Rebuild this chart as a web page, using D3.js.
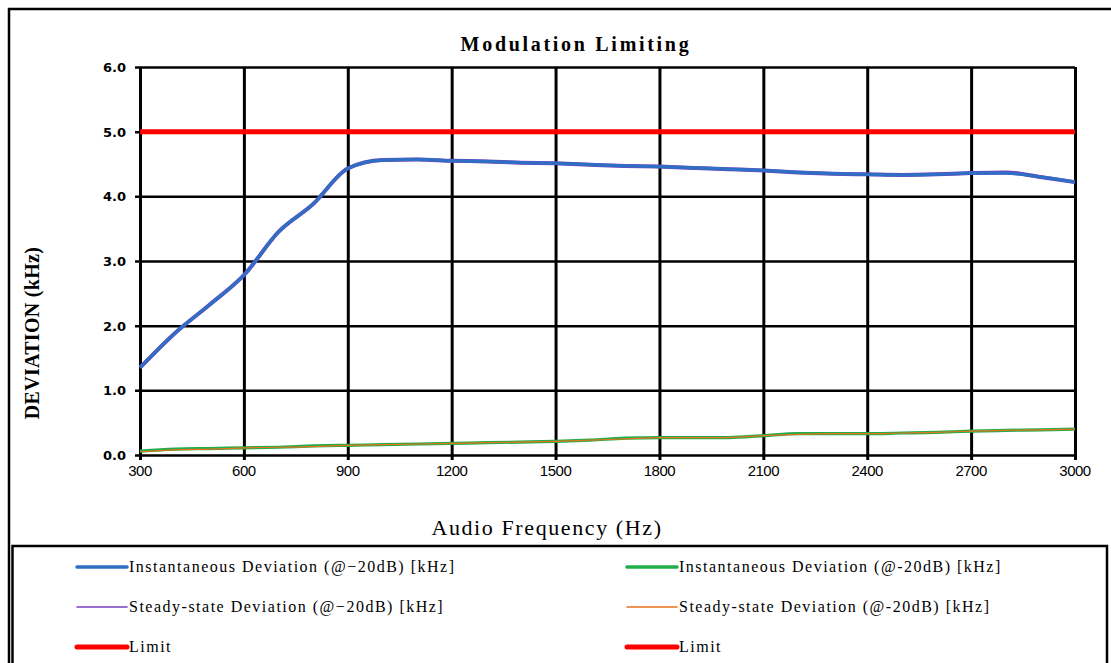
<!DOCTYPE html>
<html lang="en">
<head>
<meta charset="UTF-8">
<title>Modulation Limiting</title>
<script src="https://d3js.org/d3.v7.min.js"></script>
<style>
  body { margin: 0; background: #fff; }
  .grid line { stroke: #000; }
  .grid path { display: none; }
</style>
</head>
<body>
<div id="chart"></div>
<script>
// frequencies (Hz)
const freqs = [300, 400, 500, 600, 700, 800, 900, 1000, 1100, 1200, 1300, 1400, 1500, 1600,
               1700, 1800, 1900, 2000, 2100, 2200, 2300, 2400, 2500, 2600, 2700, 2800, 2900, 3000]
// deviation (kHz)
const instMinus = [1.35, 1.88, 2.32, 2.78, 3.45, 3.88, 4.43, 4.56, 4.57, 4.55, 4.54, 4.52, 4.51, 4.49,
                   4.47, 4.46, 4.44, 4.42, 4.40, 4.37, 4.35, 4.34, 4.33, 4.34, 4.36, 4.36, 4.30, 4.22]
const steadyMinus = [1.35, 1.88, 2.32, 2.78, 3.45, 3.88, 4.43, 4.56, 4.57, 4.55, 4.54, 4.52, 4.51, 4.49,
                     4.47, 4.46, 4.44, 4.42, 4.40, 4.37, 4.35, 4.34, 4.33, 4.34, 4.36, 4.37, 4.30, 4.22]
const instHyphen = [0.06, 0.09, 0.10, 0.11, 0.12, 0.14, 0.15, 0.16, 0.17, 0.18, 0.19, 0.20, 0.21, 0.23,
                    0.26, 0.27, 0.27, 0.27, 0.30, 0.33, 0.33, 0.33, 0.34, 0.35, 0.37, 0.38, 0.39, 0.40]
const steadyHyphen = [0.05, 0.08, 0.09, 0.11, 0.12, 0.13, 0.15, 0.16, 0.17, 0.18, 0.19, 0.20, 0.21, 0.23,
                      0.25, 0.27, 0.27, 0.27, 0.30, 0.32, 0.33, 0.33, 0.34, 0.35, 0.37, 0.38, 0.39, 0.40]
const limit = [5.0, 5.0]
const limitFreqs = [300, 3000]
const xTicks = [300, 600, 900, 1200, 1500, 1800, 2100, 2400, 2700, 3000]
const yTicks = [0, 1, 2, 3, 4, 5, 6]

const series = [
  {name: "Instantaneous Deviation (@\u221220dB) [kHz]", x: freqs, y: instMinus, color: "#2e6fc4", width: 3.2},
  {name: "Steady-state Deviation (@\u221220dB) [kHz]", x: freqs, y: steadyMinus, color: "#7a3fbf", width: 1.2},
  {name: "Limit", x: limitFreqs, y: limit, color: "#ff0000", width: 5},
  {name: "Instantaneous Deviation (@-20dB) [kHz]", x: freqs, y: instHyphen, color: "#1fae4a", width: 3.2},
  {name: "Steady-state Deviation (@-20dB) [kHz]", x: freqs, y: steadyHyphen, color: "#e8731c", width: 1.2},
  {name: "Limit", x: limitFreqs, y: limit, color: "#ff0000", width: 5}
]

const width = 1111
const height = 663
const mLeft = 140, mRight = 1075, mTop = 67, mBottom = 455

const svg = d3.select("#chart").append("svg")
    .attr("width", width)
    .attr("height", height)

// outer frame
svg.append("path")
    .attr("d", "M9,"+height+" V9 H"+width)
    .attr("fill", "none").attr("stroke", "#000").attr("stroke-width", 2.5)

const xScale = d3.scaleLinear().domain([300, 3000]).range([mLeft, mRight])
const yScale = d3.scaleLinear().domain([0, 6]).range([mBottom, mTop])

// vertical grid
svg.append("g")
    .attr("class", "grid")
    .attr("transform", "translate(0," + (mBottom + 5) + ")")
    .call(d3.axisBottom(xScale).tickValues(xTicks).tickSize(-(mBottom + 5 - mTop)).tickFormat(""))
    .selectAll("line").attr("stroke-width", 3)

// horizontal grid
svg.append("g")
    .attr("class", "grid")
    .attr("transform", "translate(" + (mLeft - 5) + ",0)")
    .call(d3.axisLeft(yScale).tickValues(yTicks).tickSize(-(mRight - mLeft + 5)).tickFormat(""))
    .selectAll("line").attr("stroke-width", 2.5)

// tick labels
svg.append("g").selectAll("text")
    .data(xTicks)
    .join("text")
    .attr("x", d => xScale(d))
    .attr("y", mBottom + 21)
    .attr("text-anchor", "middle")
    .style("font-family", "Liberation Sans, Arial, sans-serif")
    .style("font-size", "15px")
    .style("letter-spacing", "-0.5px")
    .text(d => d)

svg.append("g").selectAll("text")
    .data(yTicks)
    .join("text")
    .attr("x", mLeft - 14)
    .attr("y", d => yScale(d) + 5)
    .attr("text-anchor", "end")
    .style("font-family", "DejaVu Sans, Verdana, sans-serif")
    .style("font-weight", "bold")
    .style("font-size", "13px")
    .text(d => d.toFixed(1))

// lines (steady-state drawn under the instantaneous ones it overlaps)
const line = d3.line().curve(d3.curveMonotoneX)
const drawOrder = [1, 0, 3, 4, 2]
drawOrder.forEach(i => {
    const s = series[i]
    svg.append("path")
        .datum(s.x.map((v, j) => [xScale(v), yScale(s.y[j])]))
        .attr("d", line)
        .attr("fill", "none")
        .attr("stroke", s.color)
        .attr("stroke-width", i === 1 ? 4 : s.width)
        .attr("stroke-linejoin", "round")
})

// titles
svg.append("text")
    .attr("x", 576).attr("y", 51)
    .attr("text-anchor", "middle")
    .style("font-family", "Liberation Serif, serif")
    .style("font-weight", "bold")
    .style("font-size", "20px")
    .style("letter-spacing", "2.7px")
    .text("Modulation Limiting")

svg.append("text")
    .attr("transform", "translate(39,333) rotate(-90)")
    .attr("text-anchor", "middle")
    .style("font-family", "Liberation Serif, serif")
    .style("font-weight", "bold")
    .style("font-size", "20px")
    .style("letter-spacing", "0.3px")
    .text("DEVIATION (kHz)")

svg.append("text")
    .attr("x", 547).attr("y", 535)
    .attr("text-anchor", "middle")
    .style("font-family", "Liberation Serif, serif")
    .style("font-size", "22px")
    .style("letter-spacing", "1.6px")
    .text("Audio Frequency (Hz)")

// legend box
svg.append("path")
    .attr("d", "M12.5," + height + " V546 H1107 V" + height)
    .attr("fill", "none").attr("stroke", "#000").attr("stroke-width", 2.5)

const legendX = [77, 627]
const legendY = [567, 607, 647]
const legend = svg.append("g").selectAll("g")
    .data(series)
    .join("g")
    .attr("transform", (d, i) => "translate(" + legendX[Math.floor(i / 3)] + "," + legendY[i % 3] + ")")

legend.append("line")
    .attr("x1", 0).attr("x2", 50)
    .attr("stroke", d => d.color)
    .attr("stroke-width", d => d.width === 1.2 ? 1.6 : (d.width === 5 ? 5 : 3.5))
    .attr("stroke-linecap", "round")

legend.append("text")
    .attr("x", 52).attr("y", 5)
    .style("font-family", "Liberation Serif, serif")
    .style("font-size", "16px")
    .style("letter-spacing", "1.5px")
    .text(d => d.name)
</script>
</body>
</html>
